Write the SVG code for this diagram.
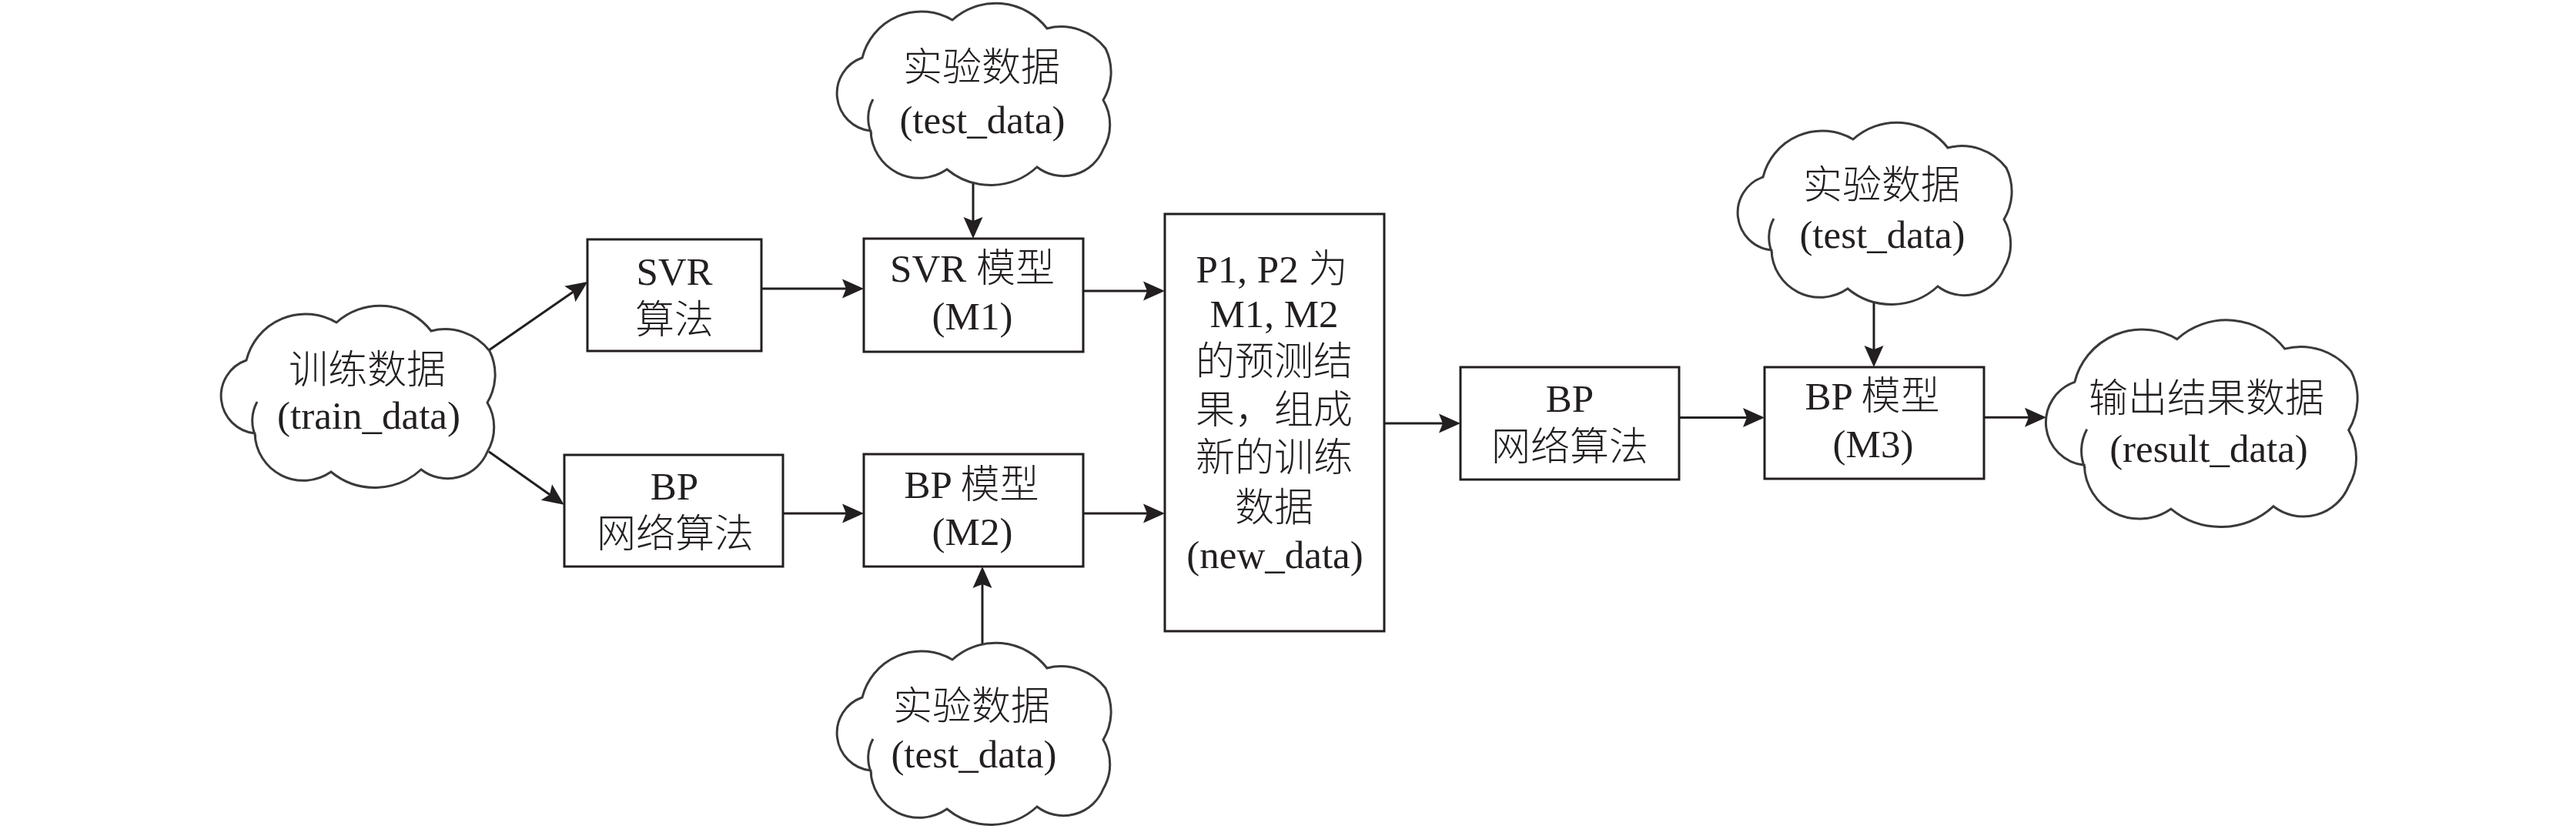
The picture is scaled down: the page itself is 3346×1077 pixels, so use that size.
<svg xmlns="http://www.w3.org/2000/svg" xmlns:xlink="http://www.w3.org/1999/xlink" width="3346" height="1077" viewBox="0 0 3346 1077">
<style>
.box{fill:#fff;stroke:#231f20;stroke-width:3}
.cl{fill:#fff;stroke:#3a3a3a;stroke-width:3}
.t{font-family:"Liberation Serif","Noto Sans CJK SC",serif;font-size:51px;fill:#231f20;text-anchor:middle;font-weight:300}
.c{stroke:#231f20;stroke-width:3;fill:none;marker-end:url(#ah)}
</style>
<defs>
<marker id="ah" markerUnits="userSpaceOnUse" markerWidth="30" markerHeight="26" viewBox="0 0 30 26" refX="8" refY="13" orient="auto">
<path d="M0,0.5 L28,13 L0,25.5 L5,13 Z" fill="#231f20"/>
</marker>
<path id="cloud" d="M35,68 A79,79 0 0 1 152,19 A84,84 0 0 1 275,30 A73,73 0 0 1 351,56 A70,70 0 0 1 348,123 A63,63 0 0 1 348,187 A56,56 0 0 1 262,210 A89,89 0 0 1 145,213 A63,63 0 0 1 46,163 A49,49 0 0 1 35,68 Z M47,167 A51,51 0 0 1 49,122"/>
</defs>
<rect width="3346" height="1077" fill="#fff"/>
<g id="connectors">
<line class="c" x1="635" y1="455" x2="746.9" y2="377.4"/>
<line class="c" x1="635" y1="586.7" x2="716.4" y2="644.2"/>
<line class="c" x1="989" y1="375" x2="1102" y2="375"/>
<line class="c" x1="1017" y1="667" x2="1102" y2="667"/>
<line class="c" x1="1407" y1="378" x2="1493" y2="378"/>
<line class="c" x1="1407" y1="667" x2="1493" y2="667"/>
<line class="c" x1="1798" y1="550" x2="1877" y2="550"/>
<line class="c" x1="2181" y1="542.5" x2="2272" y2="542.5"/>
<line class="c" x1="2577" y1="542.3" x2="2638" y2="542.3"/>
<line class="c" x1="1264" y1="238" x2="1264" y2="290"/>
<line class="c" x1="1276" y1="837" x2="1276" y2="756"/>
<line class="c" x1="2434" y1="393" x2="2434" y2="457"/>
</g>
<g id="train_data">
<use xlink:href="#cloud" class="cl" transform="translate(285,400)"/>
<text class="t" x="477" y="498">训练数据</text>
<text class="t" x="479" y="557">(train_data)</text>
</g>
<g id="test_data_1">
<use xlink:href="#cloud" class="cl" transform="translate(1085,7)"/>
<text class="t" x="1275" y="105">实验数据</text>
<text class="t" x="1276" y="173">(test_data)</text>
</g>
<g id="test_data_2">
<use xlink:href="#cloud" class="cl" transform="translate(1085,838)"/>
<text class="t" x="1262" y="935">实验数据</text>
<text class="t" x="1265" y="997">(test_data)</text>
</g>
<g id="test_data_3">
<use xlink:href="#cloud" class="cl" transform="translate(2255,162)"/>
<text class="t" x="2444" y="258">实验数据</text>
<text class="t" x="2445" y="322">(test_data)</text>
</g>
<g id="result_data">
<use xlink:href="#cloud" class="cl" style="stroke-width:2.64" transform="translate(2655,419) scale(1.137)"/>
<text class="t" x="2866" y="535">输出结果数据</text>
<text class="t" x="2869" y="600">(result_data)</text>
</g>
<g id="svr_alg">
<rect class="box" x="763" y="311" width="226" height="145"/>
<text class="t" x="876" y="370">SVR</text>
<text class="t" x="876" y="433">算法</text>
</g>
<g id="bp_alg_1">
<rect class="box" x="733" y="591" width="284" height="145"/>
<text class="t" x="876" y="649">BP</text>
<text class="t" x="877" y="711">网络算法</text>
</g>
<g id="m1">
<rect class="box" x="1122" y="310" width="285" height="147"/>
<text class="t" x="1263" y="366">SVR 模型</text>
<text class="t" x="1263" y="428">(M1)</text>
</g>
<g id="m2">
<rect class="box" x="1122" y="590" width="285" height="146"/>
<text class="t" x="1262" y="647">BP 模型</text>
<text class="t" x="1263" y="708">(M2)</text>
</g>
<g id="new_data">
<rect class="box" x="1513" y="278" width="285" height="542"/>
<text class="t" x="1652" y="367">P1, P2 为</text>
<text class="t" x="1655" y="425">M1, M2</text>
<text class="t" x="1655" y="487">的预测结</text>
<text class="t" x="1655" y="550">果，组成</text>
<text class="t" x="1655" y="612">新的训练</text>
<text class="t" x="1655" y="677">数据</text>
<text class="t" x="1656" y="738">(new_data)</text>
</g>
<g id="bp_alg_2">
<rect class="box" x="1897" y="477" width="284" height="146"/>
<text class="t" x="2039" y="535">BP</text>
<text class="t" x="2039" y="598">网络算法</text>
</g>
<g id="m3">
<rect class="box" x="2292" y="477" width="285" height="145"/>
<text class="t" x="2432" y="532">BP 模型</text>
<text class="t" x="2433" y="594">(M3)</text>
</g>
</svg>
